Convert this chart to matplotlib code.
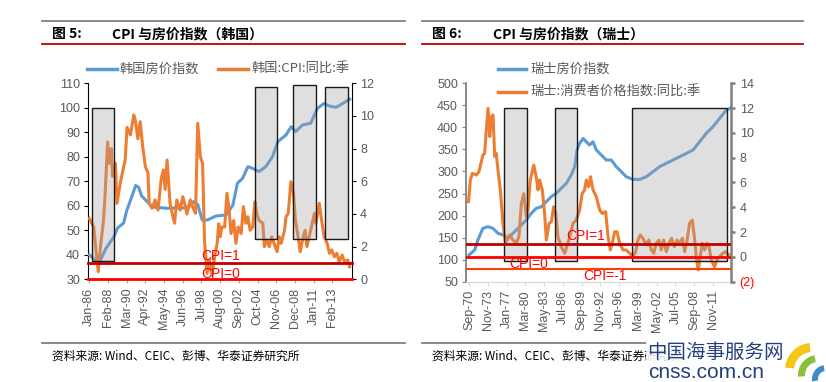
import matplotlib
matplotlib.use("Agg")
import matplotlib.pyplot as plt
from matplotlib.lines import Line2D
from matplotlib.patches import Rectangle, Wedge
from matplotlib.transforms import Affine2D

# ---------------- data ----------------
# Left panel: Korea (x = months since Jan-86)
kr_xticklabels = ['Jan-86', 'Feb-88', 'Mar-90', 'Apr-92', 'May-94', 'Jun-96', 'Jul-98',
                  'Aug-00', 'Sep-02', 'Oct-04', 'Nov-06', 'Dec-08', 'Jan-11', 'Feb-13']
kr_house_m = [0, 9, 14, 22, 33, 38, 46, 50, 56, 62, 66, 70, 78, 85, 103, 132, 139, 145,
              151, 158, 169, 183, 192, 198, 205, 212, 218, 227, 236, 245, 252, 263, 270,
              276, 285, 296, 305, 314, 321, 330, 339, 348]
kr_house_v = [40, 37.6, 37.2, 42.5, 47.4, 51.0, 53.0, 58.0, 63.0, 68.3, 67.5, 64.0, 61.5,
              59.5, 59.0, 59.2, 61.7, 60.5, 54.2, 54.2, 55.8, 56.3, 60.3, 69.2, 71.2, 76.0,
              75.3, 74.0, 76.0, 80.1, 86.2, 88.9, 92.3, 90.3, 93.0, 93.7, 99.8, 101.8,
              100.7, 100.2, 101.8, 103.5]
kr_cpi_m = [0, 6, 8, 12, 15, 19, 21, 24.5, 27, 29.5, 31, 35, 37, 41.5, 46, 48, 50.5, 55,
            59.5, 61.5, 65, 68, 71.5, 75, 78.5, 80, 84, 88, 92, 96, 99, 101.5, 104, 108,
            111, 114, 117, 121.5, 125, 128.5, 130.5, 135, 138, 142, 145, 148.5, 151.5, 154,
            157.5, 160.5, 164, 168, 171, 173, 175, 177, 181, 184, 187, 189.5, 193, 196,
            199, 203, 206, 209.5, 212, 215, 218.5, 221.5, 224, 227, 232, 234, 237.5, 240.5,
            244, 247, 251, 254, 256.5, 261, 263, 266, 269.5, 273, 275.5, 278.5, 282, 285,
            288.5, 291, 294, 298, 301, 303, 307.5, 310.5, 314, 318, 321, 324, 327.5, 331,
            334, 338, 341, 345.5, 348]
kr_cpi_v = [3.73, 3.2, 2.2, 0.47, 2.0, 3.6, 5.06, 8.4, 7.1, 8.0, 6.3, 7.1, 4.65, 5.9, 6.9,
            7.3, 9.3, 8.84, 10.06, 9.75, 8.6, 9.65, 8.1, 6.9, 6.5, 4.65, 4.35, 4.86, 4.24,
            6.1, 6.7, 5.5, 7.3, 4.65, 4.0, 3.43, 4.86, 4.24, 5.06, 4.45, 4.0, 4.86, 4.45,
            4.04, 9.55, 7.5, 7.1, 2.4, 0.37, 1.18, 0.26, 1.5, 2.2, 3.4, 2.6, 3.2, 3.2, 5.27,
            4.24, 2.8, 3.6, 2.2, 3.2, 2.8, 4.45, 3.43, 3.83, 3.0, 3.2, 4.75, 4.0, 3.6, 3.43,
            2.0, 2.4, 2.0, 2.6, 2.2, 1.69, 2.6, 2.2, 3.0, 3.83, 4.04, 5.97, 5.27, 3.63, 2.82,
            1.69, 2.4, 3.0, 2.0, 2.6, 3.43, 4.04, 3.43, 4.65, 3.63, 2.6, 2.2, 1.59, 1.8,
            1.38, 1.59, 1.08, 1.49, 1.08, 1.18, 0.77]
kr_box_start = [3.6, 221.6, 273, 315]
kr_box_end = [33, 251.4, 302.7, 345.5]
kr_box_low = [37.5, 46.3, 46.3, 46.3]
kr_box_high = [100, 108.6, 109.2, 108.6]
kr_cpi_levels = [1, 0]
kr_cpi_labels = ['CPI=1', 'CPI=0']

# Right panel: Switzerland (x = months since Sep-70)
ch_xticklabels = ['Sep-70', 'Nov-73', 'Jan-77', 'Mar-80', 'May-83', 'Jul-86', 'Sep-89',
                  'Nov-92', 'Jan-96', 'Mar-99', 'May-02', 'Jul-05', 'Sep-08', 'Nov-11']
ch_house_m = [0, 11.5, 18, 28, 38.5, 48.6, 58.7, 68.8, 79, 89, 102.5, 116, 126, 136, 146.4,
              156.5, 166.6, 176.7, 186.8, 197, 207, 214, 218.6, 224, 231, 237.5, 244, 251,
              257.7, 267.8, 278, 288, 298, 308.3, 318.4, 332, 345.5, 359, 372.5, 386,
              399.5, 413, 426.5, 440, 453.5, 467, 480.4, 494, 507.5, 521, 531]
ch_house_v = [110.6, 122, 144.6, 171, 174.8, 171, 159.8, 156, 148.5, 159.8, 174.8, 190, 205,
              216.5, 220, 231.5, 243, 250.5, 262, 273, 292, 311, 348.7, 364, 375, 367.5,
              360, 367.5, 348.7, 337.4, 326, 326, 311, 299.5, 288, 282, 282, 288, 299.5,
              311, 318.6, 326, 333.5, 341, 348.7, 367.5, 386.6, 401.6, 420.6, 439.4, 444.7]
ch_cpi_m = [-1, 2.7, 6.8, 14.8, 20, 28, 31.7, 35, 38.5, 42, 45, 48.6, 52, 55, 58.7, 63.4,
            68.8, 74, 82, 89, 95.7, 101, 106, 111, 116, 119.4, 124, 131, 136, 139.7, 143,
            148.4, 153, 156.6, 162, 166.6, 171.5, 175.5, 180, 186.8, 193.6, 198, 204,
            210.5, 217, 224, 229, 234, 237.5, 242, 246, 251, 257.7, 264.5, 270, 276.6,
            281.4, 286, 290, 295, 299.6, 305, 311.7, 318.4, 325, 332, 337.4, 342, 346.8,
            352, 359, 364, 369, 374, 379, 384.6, 389, 394, 399.5, 405, 410, 415.6, 421,
            426.5, 432, 436.6, 441, 446.5, 452, 457, 460, 464, 468, 472, 477, 482, 486,
            490.5, 497, 502, 507.5, 514, 519.6, 526]
ch_cpi_v = [4.45, 6.2, 6.74, 6.6, 6.87, 8.2, 8.35, 10.23, 11.98, 9.7, 11.3, 11.44, 8.1,
            8.35, 7.0, 5.4, 2.7, 1.1, 1.77, 1.36, 1.1, 1.63, 4.3, 5.1, 3.24, 3.8, 6.2, 7.4,
            6.47, 5.4, 6.2, 5.4, 3.5, 1.36, 2.7, 2.84, 4.05, 3.5, 1.63, 0.82, 0.3, 0.82,
            1.63, 2.7, 2.97, 3.78, 5.1, 5.4, 6.2, 5.66, 6.47, 5.4, 4.85, 3.78, 3.5, 3.65,
            1.63, 0.56, 1.1, 2.03, 2.03, 1.1, 0.56, 0.56, 0.3, 0.02, 0.42, 1.36, 1.77, 1.5,
            0.96, 1.36, 0.56, 0.3, 1.1, 1.36, 0.56, 1.36, 0.42, 1.1, 1.5, 0.82, 1.36, 1.1,
            1.5, 0.42, 1.23, 2.7, 2.97, 1.36, 0.02, -1.05, 0.02, 1.1, 0.56, 1.1, 0.82,
            -0.25, -0.8, -0.25, 0.02, 0.3, 0.42, 0.15]
ch_box_start = [70.9, 173.4, 330.6]
ch_box_end = [116.8, 218, 523]
ch_box_low = [-0.3, -0.3, -0.3]
ch_box_high = [12.0, 12.0, 12.0]
ch_cpi_levels = [1, 0, -1]
ch_cpi_labels = ['CPI=1', 'CPI=0', 'CPI=-1']

# ---------------- styling ----------------
W, H = 826, 382
BLUE = '#5B9BD5'
ORANGE = '#ED7D31'
GRAY_TXT = '#595959'
CJK = ['Noto Sans CJK SC', 'DejaVu Sans']
LAT = ['Liberation Sans', 'DejaVu Sans']
plt.rcParams['font.family'] = LAT

fig = plt.figure(figsize=(W / 100, H / 100), dpi=100)


def fx(x):
    return x / W


def fy(y):
    return 1 - y / H


def add_axes_px(l, t, r, b):
    return fig.add_axes([fx(l), fy(b), fx(r) - fx(l), (b - t) / H])


def hline_px(x0, x1, y, color, lw):
    fig.add_artist(Line2D([fx(x0), fx(x1)], [fy(y), fy(y)], color=color, lw=lw,
                          transform=fig.transFigure))


# ---------------- headers / footers ----------------
for (x0, x1) in [(42, 405), (422, 803)]:
    hline_px(x0, x1, 20.7, '#808080', 1.3)
    hline_px(x0, x1, 44.3, '#C00000', 1.3)
hline_px(42, 405, 343.3, '#808080', 1.3)
hline_px(422, 646, 343.3, '#808080', 1.3)

fig.text(fx(52), fy(34), '图 5:', family=CJK, fontsize=10, fontweight='bold', va='center')
fig.text(fx(112), fy(34), 'CPI 与房价指数（韩国）', family=CJK, fontsize=10,
         fontweight='bold', va='center')
fig.text(fx(432), fy(34), '图 6:', family=CJK, fontsize=10, fontweight='bold', va='center')
fig.text(fx(493), fy(34), 'CPI 与房价指数（瑞士）', family=CJK, fontsize=10,
         fontweight='bold', va='center')

src = '资料来源: Wind、CEIC、彭博、华泰证券研究所'
fig.text(fx(52), fy(356), src, family=CJK, fontsize=8.5, va='center', style='italic')
fig.text(fx(432), fy(356), src, family=CJK, fontsize=8.5, va='center', style='italic')

# watermark (semi-opaque white backing as in the reference)
fig.text(fx(647), fy(352), '中国海事服务网', family=CJK, fontsize=14, color='#22407F',
         va='center', zorder=10,
         bbox=dict(facecolor='white', edgecolor='none', pad=1, alpha=0.85))
fig.text(fx(648), fy(372), 'cnss.com.cn', family=LAT, fontsize=15, color='#22407F',
         va='center', zorder=10,
         bbox=dict(facecolor='white', edgecolor='none', pad=0, alpha=0.85))
pix = Affine2D().scale(1, -1).translate(0, H)
for (cx, cy, r, wd, t1, t2, col) in [(812, 370, 27, 9, 95, 175, '#F5C518'),
                                     (818, 375, 20, 7, 100, 185, '#8DBF3F'),
                                     (826, 379, 14, 6, 100, 190, '#3C8DC8')]:
    fig.add_artist(Wedge((cx, cy), r, -t2, -t1, width=wd, facecolor=col,
                         edgecolor='none', transform=pix, zorder=11))

# ---------------- legends ----------------
fig.add_artist(Line2D([fx(87), fx(117)], [fy(69)] * 2, color=BLUE, lw=2.5))
fig.text(fx(120), fy(69), '韩国房价指数', family=CJK, fontsize=9.5, color=GRAY_TXT, va='center')
fig.add_artist(Line2D([fx(218), fx(248)], [fy(69)] * 2, color=ORANGE, lw=2.5))
fig.text(fx(251), fy(69), '韩国:CPI:同比:季', family=CJK, fontsize=9.5, color=GRAY_TXT,
         va='center')
fig.add_artist(Line2D([fx(498), fx(526)], [fy(69)] * 2, color=BLUE, lw=2.5))
fig.text(fx(530), fy(69), '瑞士房价指数', family=CJK, fontsize=9.5, color=GRAY_TXT, va='center')
fig.add_artist(Line2D([fx(498), fx(526)], [fy(91.7)] * 2, color=ORANGE, lw=2.5))
fig.text(fx(530), fy(91.7), '瑞士:消费者价格指数:同比:季', family=CJK, fontsize=9.5,
         color=GRAY_TXT, va='center')


def style_axes(ax, ax2, spine_color, bottom_color):
    for a in (ax, ax2):
        a.spines['top'].set_visible(False)
    ax.spines['right'].set_visible(False)
    ax2.spines['left'].set_visible(False)
    ax2.spines['bottom'].set_visible(False)
    ax.spines['left'].set_color(spine_color)
    ax2.spines['right'].set_color(spine_color)
    ax.spines['bottom'].set_color(bottom_color)
    ax.tick_params(axis='y', direction='out', length=3, colors=spine_color,
                   labelcolor=GRAY_TXT, labelsize=9, pad=3)
    ax2.tick_params(axis='y', direction='out', length=3, colors=spine_color,
                    labelcolor=GRAY_TXT, labelsize=9, pad=3)
    ax.tick_params(axis='x', direction='out', length=3, colors=bottom_color,
                   labelcolor=GRAY_TXT, labelsize=9, pad=3, labelrotation=90)


# ---------------- left panel ----------------
axL = add_axes_px(88.3, 83.3, 351.7, 279.3)
axL2 = axL.twinx()
axL.plot(kr_house_m, kr_house_v, color=BLUE, lw=2.2, solid_joinstyle='round', zorder=3)
axL2.plot(kr_cpi_m, kr_cpi_v, color=ORANGE, lw=2.2, solid_joinstyle='round', zorder=3)
axL.set_xlim(-1.3, 350.8)
axL.set_ylim(30, 110)
axL.set_yticks(range(30, 111, 10))
axL2.set_ylim(0, 12)
axL2.set_yticks(range(0, 13, 2))
axL.set_xticks([25 * i for i in range(len(kr_xticklabels))])
axL.set_xticklabels(kr_xticklabels)
for s, e, lo, hi in zip(kr_box_start, kr_box_end, kr_box_low, kr_box_high):
    axL2.add_patch(Rectangle((s, lo), e - s, hi - lo, transform=axL.transData,
                             facecolor='#A0A0A0', alpha=0.33, edgecolor='none', zorder=4))
    axL2.add_patch(Rectangle((s, lo), e - s, hi - lo, transform=axL.transData,
                             facecolor='none', edgecolor='#1A1A1A', lw=1.0, zorder=4))
kr_line_colors = ['#C00000', '#FF0000']
for lvl, c in zip(kr_cpi_levels, kr_line_colors):
    axL2.axhline(lvl, color=c, lw=2.0, zorder=5, clip_on=False)
axL2.text(176, 1.45, kr_cpi_labels[0], color='#FF0000', fontsize=10, ha='center',
          va='center', zorder=6)
axL2.text(176, 0.33, kr_cpi_labels[1], color='#FF0000', fontsize=10, ha='center',
          va='center', zorder=6)
style_axes(axL, axL2, '#000000', '#A6A6A6')

# ---------------- right panel ----------------
axR = add_axes_px(466.3, 83.3, 731.3, 281.7)
axR2 = axR.twinx()
axR.plot(ch_house_m, ch_house_v, color=BLUE, lw=2.2, solid_joinstyle='round', zorder=3)
axR2.plot(ch_cpi_m, ch_cpi_v, color=ORANGE, lw=2.2, solid_joinstyle='round', zorder=3)
axR.set_xlim(-5.5, 531)
axR.set_ylim(50, 500)
axR.set_yticks(range(50, 501, 50))
axR2.set_ylim(-2, 14)
axR2.set_yticks(range(-2, 15, 2))
axR2.set_yticklabels(['(2)'] + [str(v) for v in range(0, 15, 2)])
axR.set_xticks([38 * i for i in range(len(ch_xticklabels))])
axR.set_xticklabels(ch_xticklabels)
for s, e, lo, hi in zip(ch_box_start, ch_box_end, ch_box_low, ch_box_high):
    axR2.add_patch(Rectangle((s, lo), e - s, hi - lo, facecolor='#A0A0A0', alpha=0.33,
                             edgecolor='none', zorder=4))
    axR2.add_patch(Rectangle((s, lo), e - s, hi - lo, facecolor='none',
                             edgecolor='#1A1A1A', lw=1.0, zorder=4))
ch_line_colors = ['#C00000', '#FF0000', '#FF4000']
ch_line_widths = [2.0, 2.0, 1.5]
for lvl, c, w in zip(ch_cpi_levels, ch_line_colors, ch_line_widths):
    axR2.axhline(lvl, color=c, lw=w, zorder=5)
axR2.text(236, 1.65, ch_cpi_labels[0], color='#FF0000', fontsize=10, ha='center',
          va='center', zorder=6)
axR2.text(121, -0.55, ch_cpi_labels[1], color='#FF0000', fontsize=10, ha='center',
          va='center', zorder=6)
axR2.text(276, -1.55, ch_cpi_labels[2], color='#FF0000', fontsize=10, ha='center',
          va='center', zorder=6)
style_axes(axR, axR2, '#808080', '#D9D9D9')
axR.spines['left'].set_linewidth(1.3)
axR2.spines['right'].set_linewidth(1.8)
axR2.tick_params(axis='y', width=1.8)
axR2.get_yticklabels()[0].set_color('#FF0000')

fig.savefig('out.png', dpi=100)
